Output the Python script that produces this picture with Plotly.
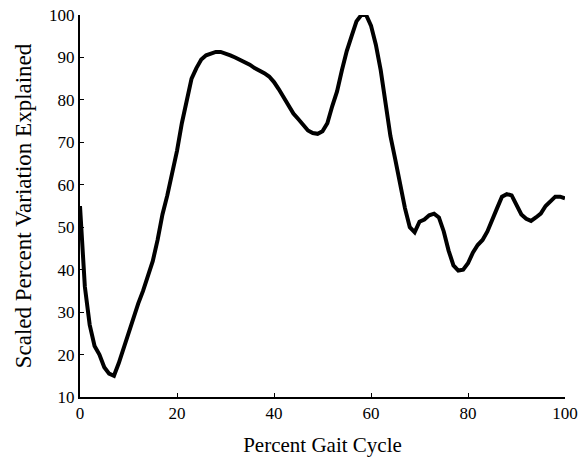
import plotly.graph_objects as go

gait_percent = list(range(0, 101))
scaled_variation = [
    55, 36, 27, 22, 20, 17, 15.5, 15, 18, 21.5,
    25.5, 29, 32, 35, 38.5, 42, 47, 53, 57.5, 62.5,
    68, 74.5, 80, 85, 87.5, 89.5, 90.5, 91, 91.3, 91.3,
    91, 90.5, 90, 89.5, 89, 88.3, 87.5, 87, 86.3, 85.5,
    84.2, 82.5, 80.5, 78.5, 76.8, 75.5, 74, 72.8, 72.2, 72,
    72.6, 74.5, 78.5, 82, 87, 91.5, 95, 98.5, 100, 100,
    97.5, 93, 87, 79, 71.5, 66, 60, 54.5, 50, 48.8,
    51.3, 51.8, 52.8, 53.2, 52.3, 49, 44.5, 41, 39.8, 40,
    41.5, 44, 45.8, 47, 49, 51.5, 54.5, 57.2, 57.8, 57.5,
    55, 53, 52, 51.5, 52.3, 53.2, 55, 56, 57.2, 57.2,
    56.8,
]
x_ticks = [0, 20, 40, 60, 80, 100]
y_ticks = [10, 20, 30, 40, 50, 60, 70, 80, 90, 100]

fig = go.Figure()
fig.add_trace(go.Scatter(
    x=gait_percent, y=scaled_variation, mode="lines",
    line=dict(color="black", width=4), cliponaxis=False, showlegend=False,
))

fam = "Liberation Serif, Times New Roman, serif"
tick_font = dict(family=fam, size=17, color="black")
fig.update_layout(
    width=584, height=457,
    margin=dict(l=80, r=19, t=15, b=60),
    paper_bgcolor="white", plot_bgcolor="white",
    font=tick_font,
    xaxis=dict(
        range=[0, 100], tickvals=x_ticks, ticks="inside", ticklen=4, tickwidth=1,
        tickcolor="black", showline=True, linecolor="black", linewidth=2,
        showgrid=False, zeroline=False, mirror=False, automargin=False,
        tickfont=tick_font,
        title=dict(text="Percent Gait Cycle", standoff=15,
                   font=dict(family=fam, size=21, color="black")),
    ),
    yaxis=dict(
        range=[10, 100], tickvals=y_ticks, ticks="inside", ticklen=4, tickwidth=1,
        tickcolor="black", showline=True, linecolor="black", linewidth=2,
        showgrid=False, zeroline=False, mirror=False, automargin=False,
        tickfont=tick_font,
        title=dict(text="Scaled Percent Variation Explained", standoff=11,
                   font=dict(family=fam, size=23, color="black")),
    ),
)
fig.write_html("out.html")
